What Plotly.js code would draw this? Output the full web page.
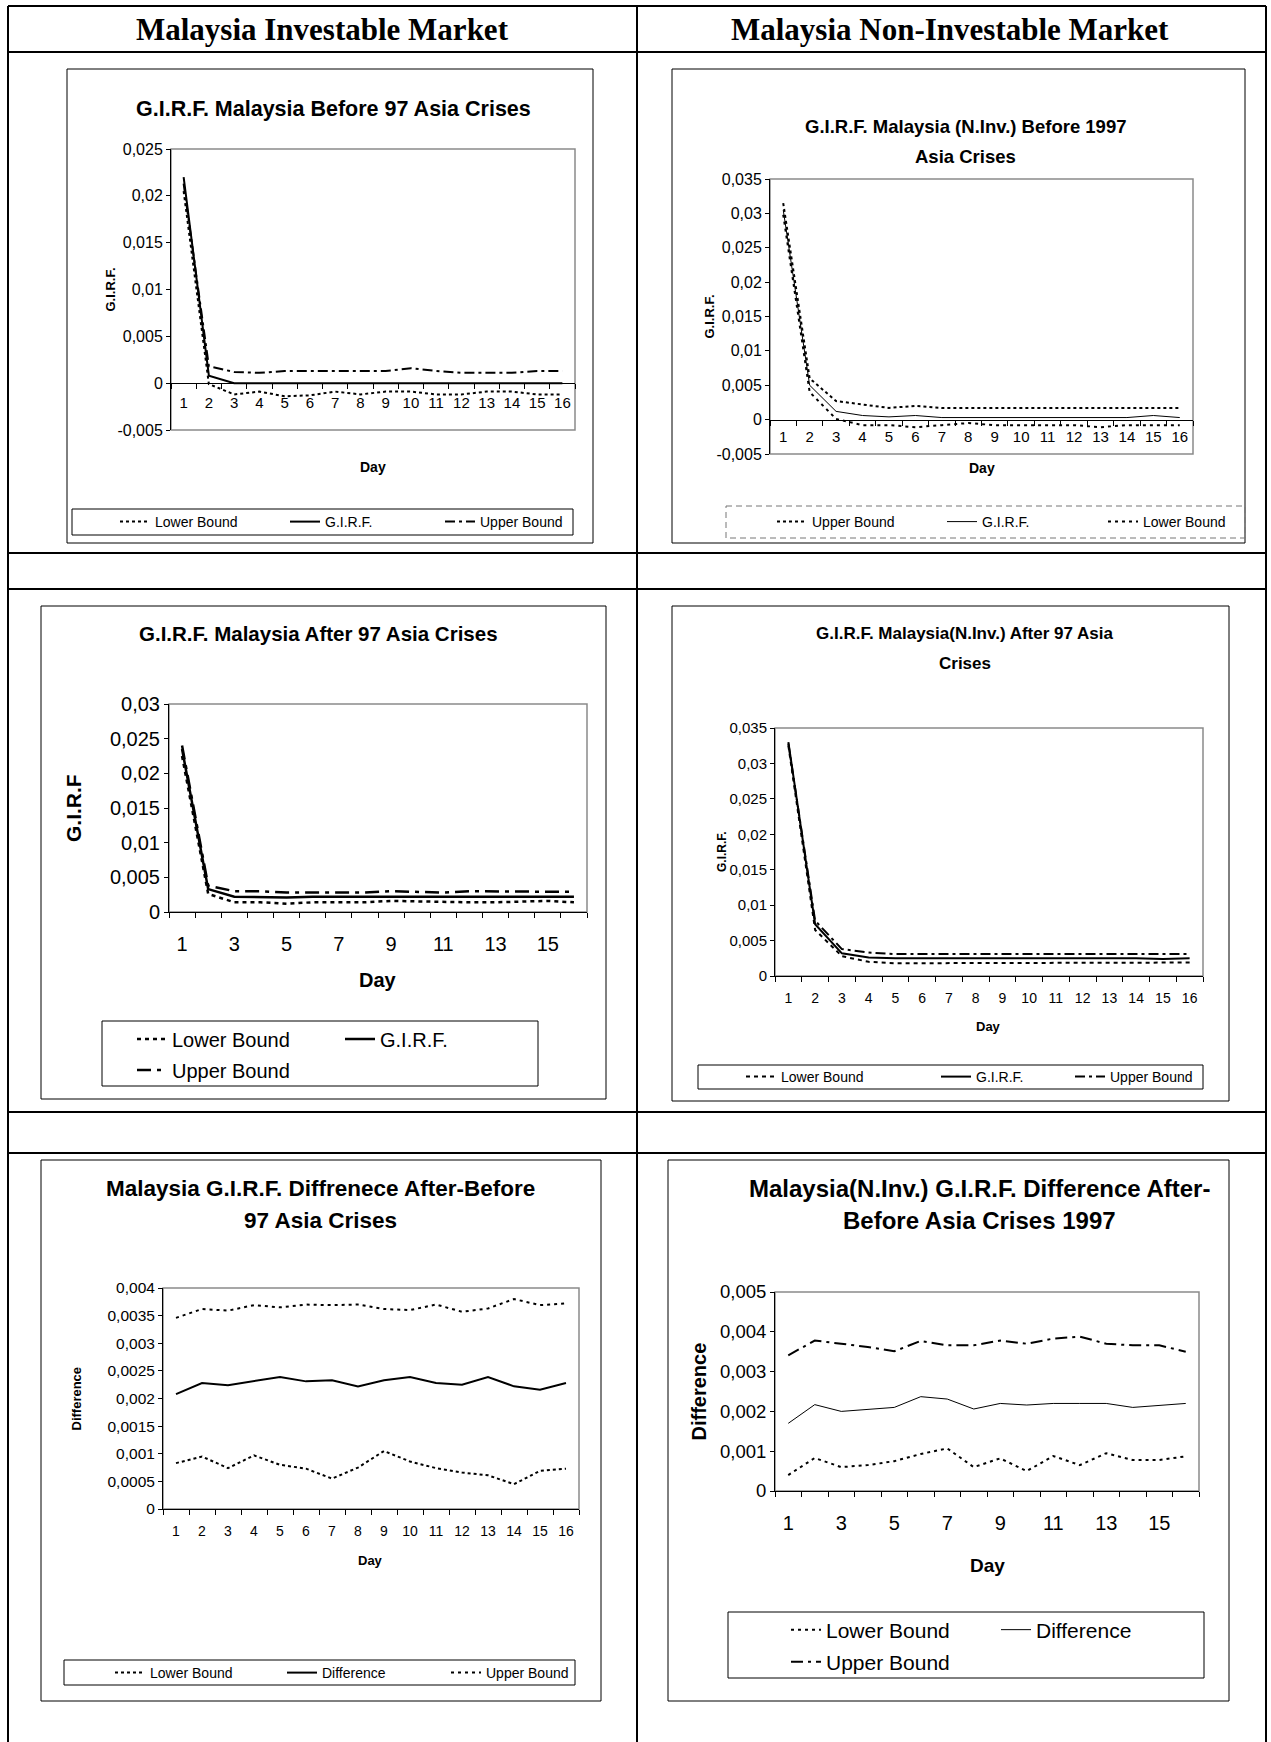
<!DOCTYPE html>
<html><head><meta charset="utf-8">
<script src="https://cdn.plot.ly/plotly-3.0.1.min.js"></script>
<style>html,body{margin:0;padding:0;background:#fff}</style>
</head><body>
<div id="chart" style="width:1271px;height:1742px"></div>
<script>
// ================= DATA =================
const days = [1,2,3,4,5,6,7,8,9,10,11,12,13,14,15,16];
const dayLabelsAll = ['1','2','3','4','5','6','7','8','9','10','11','12','13','14','15','16'];
const dayTicksOdd = [1,3,5,7,9,11,13,15];
const dayLabelsOdd = ['1','3','5','7','9','11','13','15'];

// Chart 1: Investable, before 97
const c1Lower = [0.0205,-0.0001,-0.0012,-0.0009,-0.0014,-0.0013,-0.0009,-0.0012,-0.0009,-0.0009,-0.0012,-0.0012,-0.0009,-0.0009,-0.0012,-0.0012];
const c1Girf  = [0.0220,0.0008,0.0000,0.0000,0.0000,0.0000,0.0000,0.0000,0.0000,0.0000,0.0000,0.0000,0.0000,0.0000,0.0000,0.0000];
const c1Upper = [0.0213,0.0018,0.0012,0.0011,0.0013,0.0013,0.0013,0.0013,0.0013,0.0016,0.0013,0.0011,0.0011,0.0011,0.0013,0.0013];
// Chart 2: Non-investable, before 1997
const c2Upper = [0.0315,0.0060,0.0027,0.0022,0.0017,0.0020,0.0017,0.0017,0.0017,0.0017,0.0017,0.0017,0.0017,0.0017,0.0017,0.0017];
const c2Girf  = [0.0305,0.0050,0.0012,0.0006,0.0004,0.0006,0.0003,0.0003,0.0003,0.0003,0.0003,0.0003,0.0003,0.0003,0.0006,0.0003];
const c2Lower = [0.0298,0.0040,0.0001,-0.0008,-0.0008,-0.0011,-0.0008,-0.0005,-0.0008,-0.0008,-0.0008,-0.0008,-0.0011,-0.0008,-0.0008,-0.0008];
// Chart 3: Investable, after 97
const c3Lower = [0.0225,0.0026,0.0014,0.0014,0.0012,0.0014,0.0014,0.0014,0.0016,0.0015,0.0014,0.0014,0.0014,0.0015,0.0016,0.0014];
const c3Girf  = [0.0235,0.0033,0.0022,0.0021,0.0021,0.0022,0.0022,0.0022,0.0022,0.0021,0.0021,0.0022,0.0021,0.0022,0.0022,0.0022];
const c3Upper = [0.0240,0.0038,0.0030,0.0030,0.0028,0.0028,0.0028,0.0028,0.0030,0.0029,0.0028,0.0030,0.0030,0.0030,0.0030,0.0029];
// Chart 4: Non-investable, after 97
const c4Lower = [0.0325,0.0065,0.0028,0.0020,0.0018,0.0018,0.0018,0.0018,0.0018,0.0019,0.0019,0.0019,0.0019,0.0019,0.0018,0.0019];
const c4Girf  = [0.0330,0.0073,0.0032,0.0026,0.0025,0.0025,0.0026,0.0025,0.0025,0.0025,0.0025,0.0025,0.0025,0.0025,0.0024,0.0025];
const c4Upper = [0.0328,0.0078,0.0038,0.0033,0.0031,0.0031,0.0031,0.0031,0.0031,0.0031,0.0031,0.0032,0.0031,0.0031,0.0031,0.0031];
// Chart 5: Investable, difference after-before
const c5Lower = [0.00083,0.00095,0.00074,0.00097,0.00080,0.00073,0.00055,0.00075,0.00105,0.00086,0.00074,0.00066,0.00061,0.00045,0.00069,0.00073];
const c5Diff  = [0.00208,0.00228,0.00224,0.00231,0.00239,0.00231,0.00233,0.00222,0.00233,0.00239,0.00228,0.00225,0.00239,0.00222,0.00216,0.00228];
const c5Upper = [0.00346,0.00362,0.00359,0.00369,0.00365,0.00370,0.00369,0.00370,0.00362,0.00360,0.00370,0.00357,0.00363,0.00380,0.00369,0.00372];
// Chart 6: Non-investable, difference after-before
const c6Lower = [0.00040,0.00083,0.00060,0.00065,0.00075,0.00093,0.00107,0.00060,0.00082,0.00050,0.00088,0.00065,0.00095,0.00078,0.00078,0.00087];
const c6Diff  = [0.00170,0.00217,0.00200,0.00205,0.00210,0.00237,0.00231,0.00206,0.00220,0.00216,0.00220,0.00220,0.00220,0.00210,0.00215,0.00220];
const c6Upper = [0.00341,0.00378,0.00370,0.00362,0.00351,0.00377,0.00366,0.00366,0.00378,0.00370,0.00383,0.00388,0.00370,0.00366,0.00366,0.00350];

// Y tick values and labels
const yTicks1 = [-0.005,0,0.005,0.01,0.015,0.02,0.025];
const yLabels1 = ['-0,005','0','0,005','0,01','0,015','0,02','0,025'];
const yTicks2 = [-0.005,0,0.005,0.01,0.015,0.02,0.025,0.03,0.035];
const yLabels2 = ['-0,005','0','0,005','0,01','0,015','0,02','0,025','0,03','0,035'];
const yTicks3 = [0,0.005,0.01,0.015,0.02,0.025,0.03];
const yLabels3 = ['0','0,005','0,01','0,015','0,02','0,025','0,03'];
const yTicks4 = [0,0.005,0.01,0.015,0.02,0.025,0.03,0.035];
const yLabels4 = ['0','0,005','0,01','0,015','0,02','0,025','0,03','0,035'];
const yTicks5 = [0,0.0005,0.001,0.0015,0.002,0.0025,0.003,0.0035,0.004];
const yLabels5 = ['0','0,0005','0,001','0,0015','0,002','0,0025','0,003','0,0035','0,004'];
const yTicks6 = [0,0.001,0.002,0.003,0.004,0.005];
const yLabels6 = ['0','0,001','0,002','0,003','0,004','0,005'];

// ================= LAYOUT HELPERS =================
const W = 1271, H = 1742;
const px = v => v / W;
const py = v => 1 - v / H;
const SANS = '"Liberation Sans", Arial, sans-serif';
const SERIF = '"Liberation Serif", "Times New Roman", serif';
const boundaries = days.map(d => d - 0.5).concat([days[days.length - 1] + 0.5]);

const traces = [], shapes = [], annotations = [];
const layout = {
  width: W, height: H, margin: {l:0, r:0, t:0, b:0, autoexpand:false},
  paper_bgcolor: '#fff', plot_bgcolor: 'rgba(0,0,0,0)',
  showlegend: true, hovermode: false, separators: ', ',
  font: {family: SANS, color: '#000'}
};
let legendCount = 0;

function line(x0, y0, x1, y1, w, color, dash) {
  shapes.push({type:'line', xref:'paper', yref:'paper', x0:px(x0), y0:py(y0), x1:px(x1), y1:py(y1),
    line:{color: color || '#000', width: w, dash: dash || 'solid'}});
}
function rect(box, w, color, dash) {
  shapes.push({type:'rect', xref:'paper', yref:'paper', x0:px(box[0]), y0:py(box[1]), x1:px(box[2]), y1:py(box[3]),
    line:{color: color || '#000', width: w, dash: dash || 'solid'}, fillcolor:'rgba(0,0,0,0)'});
}
function text(t, x, y, size, opts) {
  opts = opts || {};
  annotations.push({text: t, xref:'paper', yref:'paper', x:px(x), y:py(y), showarrow:false,
    xanchor: opts.xanchor || 'center', yanchor: 'middle', textangle: opts.angle || 0,
    font:{family: opts.family || SANS, size: size, color:'#000'}});
}

function panel(k, cfg) {
  const xa = k === 1 ? 'x' : 'x' + k, ya = k === 1 ? 'y' : 'y' + k;
  const xk = k === 1 ? 'xaxis' : 'xaxis' + k, yk = k === 1 ? 'yaxis' : 'yaxis' + k;
  const [L, T, R, B] = cfg.plot;
  const xdom = [px(L), px(R)], ydom = [py(B), py(T)];
  layout[xk] = {
    domain: xdom, range: [0.5, 16.5], showgrid: false, zeroline: false,
    showline: true, linecolor: '#000', linewidth: 1,
    tickmode: 'array', tickvals: cfg.xTicks, ticktext: cfg.xLabels, ticks: '',
    ticklabelstandoff: cfg.xStandoff,
    minor: {tickmode: 'array', tickvals: boundaries, ticks: 'outside', ticklen: 5, tickcolor: '#000', tickwidth: 1},
    tickfont: {family: SANS, size: cfg.xFont, color: '#000'}, fixedrange: true
  };
  layout[yk] = {
    domain: ydom, range: cfg.yRange, anchor: xa, showgrid: false, zeroline: false,
    showline: true, linecolor: '#000', linewidth: 1,
    tickmode: 'array', tickvals: cfg.yTicks, ticktext: cfg.yLabels,
    ticks: 'outside', ticklen: 4, tickcolor: '#000',
    tickfont: {family: SANS, size: cfg.yFont, color: '#000'}, fixedrange: true
  };
  if (cfg.xAtZero) {
    layout[xk].anchor = 'free';
    layout[xk].position = ydom[0] + (0 - cfg.yRange[0]) / (cfg.yRange[1] - cfg.yRange[0]) * (ydom[1] - ydom[0]);
  } else {
    layout[xk].anchor = ya;
  }
  shapes.push({type:'rect', xref: xa + ' domain', yref: ya + ' domain', x0:0, x1:1, y0:0, y1:1,
    line:{color:'#8a8a8a', width:1.5}, layer:'below'});
  rect(cfg.box, 1, '#000');
  rect(cfg.legendBox, 1, cfg.legendBoxColor || '#000', cfg.legendBoxDash);
  cfg.series.forEach(s => {
    legendCount++;
    const lid = legendCount === 1 ? 'legend' : 'legend' + legendCount;
    layout[lid] = {x: px(s.lx), y: py(s.ly), xanchor:'left', yanchor:'middle', orientation:'h',
      bgcolor:'rgba(0,0,0,0)', borderwidth:0, font:{family: SANS, size: cfg.legendFont, color:'#000'},
      itemclick:false, itemdoubleclick:false};
    traces.push({type:'scatter', mode:'lines', x: days, y: s.y, name: s.name, xaxis: xa, yaxis: ya,
      legend: lid, line:{color:'#000', width: s.width, dash: s.dash}, hoverinfo:'skip'});
  });
  cfg.title.forEach(t => text('<b>' + t[0] + '</b>', t[1], t[2], cfg.titleFont));
  text('<b>' + cfg.yTitle + '</b>', cfg.yTitleX, (T + B) / 2, cfg.yTitleFont, {angle: -90});
  text('<b>Day</b>', (L + R) / 2, cfg.dayY, cfg.dayFont);
}

// ================= TABLE =================
line(8, 6, 1266, 6, 2);
line(8, 52, 1266, 52, 2);
line(8, 553, 1266, 553, 2);
line(8, 589, 1266, 589, 2);
line(8, 1112, 1266, 1112, 2);
line(8, 1153, 1266, 1153, 2);
line(8, 6, 8, 1742, 2);
line(637, 6, 637, 1742, 2);
line(1266, 6, 1266, 1742, 2);
text('<b>Malaysia Investable Market</b>', 322, 30, 31, {family: SERIF});
text('<b>Malaysia Non-Investable Market</b>', 950, 30, 31, {family: SERIF});

// ================= PANELS =================
const DOT = '3px,3px', DASHDOT = '10px,4px,3px,4px';
panel(1, {
  box:[67,69,593,543], plot:[171,149,575,430], yRange:[-0.005,0.025], yTicks:yTicks1, yLabels:yLabels1,
  xTicks:days, xLabels:dayLabelsAll, xAtZero:true, xStandoff:6, xFont:15, yFont:16,
  title:[['G.I.R.F. Malaysia Before 97 Asia Crises',334,109]], titleFont:21.5,
  yTitle:'G.I.R.F.', yTitleX:110, yTitleFont:13, dayY:467, dayFont:14,
  legendBox:[72,509,573,535], legendFont:14,
  series:[
    {name:'Lower Bound', y:c1Lower, dash:DOT, width:2, lx:115, ly:522},
    {name:'G.I.R.F.', y:c1Girf, dash:'solid', width:2, lx:285, ly:522},
    {name:'Upper Bound', y:c1Upper, dash:DASHDOT, width:2, lx:440, ly:522}
  ]
});
panel(2, {
  box:[672,69,1245,543], plot:[770,179,1193,454], yRange:[-0.005,0.035], yTicks:yTicks2, yLabels:yLabels2,
  xTicks:days, xLabels:dayLabelsAll, xAtZero:true, xStandoff:3, xFont:15, yFont:16,
  title:[['G.I.R.F. Malaysia (N.Inv.) Before 1997',965,126],['Asia Crises',965,156]], titleFont:18.5,
  yTitle:'G.I.R.F.', yTitleX:709, yTitleFont:13, dayY:468, dayFont:14,
  legendBox:[726,506,1245,538], legendBoxColor:'#777', legendBoxDash:'6px,4px', legendFont:14,
  series:[
    {name:'Upper Bound', y:c2Upper, dash:DOT, width:2, lx:772, ly:522},
    {name:'G.I.R.F.', y:c2Girf, dash:'solid', width:1, lx:942, ly:522},
    {name:'Lower Bound', y:c2Lower, dash:'3px,4px', width:2, lx:1103, ly:522}
  ]
});
panel(3, {
  box:[41,606,606,1099], plot:[169,704,587,912], yRange:[0,0.03], yTicks:yTicks3, yLabels:yLabels3,
  xTicks:dayTicksOdd, xLabels:dayLabelsOdd, xAtZero:false, xStandoff:14, xFont:20, yFont:20,
  title:[['G.I.R.F. Malaysia After 97 Asia Crises',318,634]], titleFont:20.5,
  yTitle:'G.I.R.F', yTitleX:73, yTitleFont:21, dayY:980, dayFont:20,
  legendBox:[102,1021,538,1086], legendFont:20,
  series:[
    {name:'Lower Bound', y:c3Lower, dash:'4px,4px', width:2.5, lx:132, ly:1039},
    {name:'G.I.R.F.', y:c3Girf, dash:'solid', width:2.5, lx:340, ly:1039},
    {name:'Upper Bound', y:c3Upper, dash:'14px,6px,4px,6px', width:2.5, lx:132, ly:1070}
  ]
});
panel(4, {
  box:[672,606,1229,1101], plot:[775,728,1203,976], yRange:[0,0.035], yTicks:yTicks4, yLabels:yLabels4,
  xTicks:days, xLabels:dayLabelsAll, xAtZero:false, xStandoff:9, xFont:14, yFont:15,
  title:[['G.I.R.F. Malaysia(N.Inv.) After 97 Asia',965,633],['Crises',965,664]], titleFont:17,
  yTitle:'G.I.R.F.', yTitleX:722, yTitleFont:12, dayY:1026, dayFont:13,
  legendBox:[698,1065,1203,1089], legendFont:14,
  series:[
    {name:'Lower Bound', y:c4Lower, dash:'4px,4px', width:2, lx:741, ly:1077},
    {name:'G.I.R.F.', y:c4Girf, dash:'solid', width:2, lx:936, ly:1077},
    {name:'Upper Bound', y:c4Upper, dash:DASHDOT, width:2, lx:1070, ly:1077}
  ]
});
panel(5, {
  box:[41,1160,601,1701], plot:[163,1288,579,1509], yRange:[0,0.004], yTicks:yTicks5, yLabels:yLabels5,
  xTicks:days, xLabels:dayLabelsAll, xAtZero:false, xStandoff:9, xFont:14, yFont:15.5,
  title:[['Malaysia G.I.R.F. Diffrenece After-Before',320,1188],['97 Asia Crises',320,1220]], titleFont:22.5,
  yTitle:'Difference', yTitleX:76, yTitleFont:13, dayY:1560, dayFont:13,
  legendBox:[64,1660,575,1685], legendFont:14,
  series:[
    {name:'Lower Bound', y:c5Lower, dash:DOT, width:2, lx:110, ly:1673},
    {name:'Difference', y:c5Diff, dash:'solid', width:2, lx:282, ly:1673},
    {name:'Upper Bound', y:c5Upper, dash:'3px,4px', width:2, lx:446, ly:1673}
  ]
});
panel(6, {
  box:[668,1160,1229,1701], plot:[775,1292,1199,1491], yRange:[0,0.005], yTicks:yTicks6, yLabels:yLabels6,
  xTicks:dayTicksOdd, xLabels:dayLabelsOdd, xAtZero:false, xStandoff:14, xFont:20, yFont:18.5,
  title:[['Malaysia(N.Inv.) G.I.R.F. Difference After-',979,1188],['Before Asia Crises 1997',979,1220]], titleFont:24,
  yTitle:'Difference', yTitleX:698, yTitleFont:20, dayY:1565, dayFont:19,
  legendBox:[728,1612,1204,1678], legendFont:21,
  series:[
    {name:'Lower Bound', y:c6Lower, dash:'3px,4px', width:2, lx:786, ly:1630},
    {name:'Difference', y:c6Diff, dash:'solid', width:1, lx:996, ly:1630},
    {name:'Upper Bound', y:c6Upper, dash:'12px,5px,3px,5px', width:2, lx:786, ly:1662}
  ]
});

layout.shapes = shapes;
layout.annotations = annotations;
Plotly.newPlot('chart', traces, layout, {staticPlot: true, displayModeBar: false});
</script>
</body></html>
